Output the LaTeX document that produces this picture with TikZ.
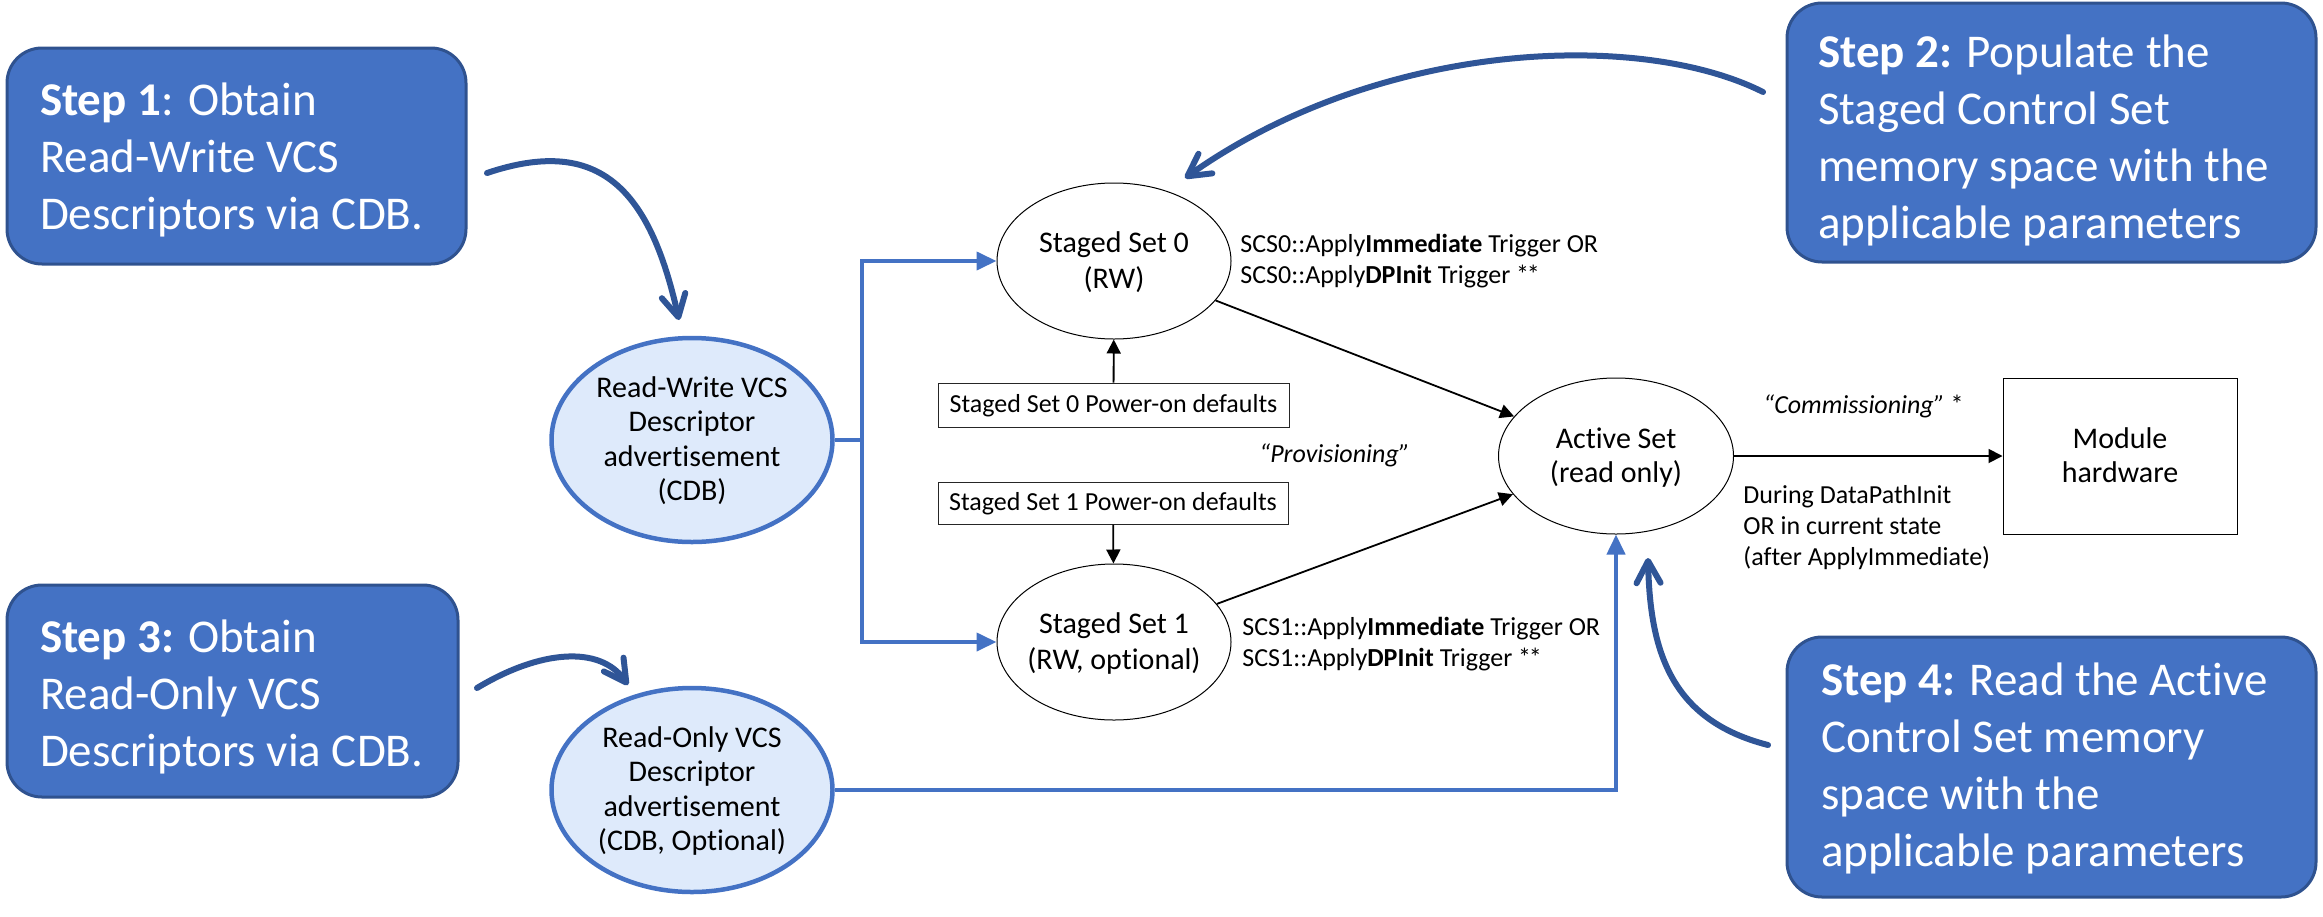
\documentclass[tikz,border=0pt]{standalone}
\usepackage{fontspec}
\setmainfont{Carlito}[Ligatures=NoCommon]
\usetikzlibrary{arrows.meta,shapes.geometric}

\definecolor{stepfill}{HTML}{4472C4}
\definecolor{stepline}{HTML}{2F528F}
\definecolor{curvecol}{HTML}{2F5597}
\definecolor{linkblue}{HTML}{4472C4}
\definecolor{descfill}{HTML}{DEEAFB}

% left-aligned block of lines in a box of fixed width, baseline on the first line
\newcommand\lefttab[2]{\makebox[#1][l]{\begin{tabular}[t]{@{}l@{}}#2\end{tabular}}}
% centred block of lines of zero width, baseline on the first line
\newcommand\midtab[1]{\makebox[0pt]{\begin{tabular}[t]{@{}c@{}}#1\end{tabular}}}
\newcommand\linestab[1]{\begin{tabular}[t]{@{}l@{}}#1\end{tabular}}
\newcommand\twostars{*\kern-1.2pt*}

\begin{document}
\begin{tikzpicture}[x=0.5pt,y=-0.5pt,
  stepbox/.style={rectangle, rounded corners=17.5pt, fill=stepfill, draw=stepline,
    line width=1.5pt, text=white, inner sep=0pt,
    font=\fontsize{23.5}{28.5}\selectfont, text height=0pt},
  descell/.style={ellipse, fill=descfill, draw=linkblue, line width=2.25pt,
    minimum width=140.5pt, minimum height=102pt, inner sep=0pt,
    font=\fontsize{15}{17.25}\selectfont, text height=0pt, text depth=43pt},
  state/.style={ellipse, draw, line width=0.5pt, minimum width=117pt,
    minimum height=78pt, inner sep=0pt, font=\fontsize{15}{18}\selectfont,
    text height=0pt, text depth=9pt},
  defbox/.style={rectangle, draw=black!85, line width=0.5pt, inner sep=0pt,
    minimum height=22pt, font=\fontsize{13}{15.5}\selectfont,
    text height=7pt, text depth=0pt},
  note/.style={inner sep=0pt, anchor=base west, font=\fontsize{13}{15.5}\selectfont},
  hint/.style={curvecol, line width=3pt, line cap=round,
    -{Straight Barb[length=11pt,width=12pt,round]}},
  feed/.style={linkblue, line width=2pt, -{Triangle[length=10pt,width=9pt]}},
  flow/.style={black, line width=0.9pt, -{Triangle[length=7pt,width=7pt]}}
]
\useasboundingbox (0,0) rectangle (2323,916);

% step call-outs
\node[stepbox, minimum width=229.5pt, minimum height=108pt, text depth=41pt] (s1) at (236.5,156)
  {\lefttab{196.5pt}{\textbf{Step 1}: Obtain\\Read-Write VCS\\Descriptors via CDB.}};
\node[stepbox, minimum width=264.5pt, minimum height=129.5pt, text depth=65.5pt] (s2) at (2051.5,132.5)
  {\lefttab{233.5pt}{\textbf{Step 2:} Populate the\\Staged Control Set\\memory space with the\\applicable parameters}};
\node[stepbox, minimum width=225.5pt, minimum height=106pt, text depth=39pt] (s3) at (232.5,691)
  {\lefttab{192.5pt}{\textbf{Step 3:} Obtain\\Read-Only VCS\\Descriptors via CDB.}};
\node[stepbox, minimum width=264.5pt, minimum height=130pt, text depth=72pt] (s4) at (2051.5,767)
  {\lefttab{230.5pt}{\textbf{Step 4:} Read the Active\\Control Set memory\\space with the\\applicable parameters}};

% descriptor advertisements
\node[descell] (rw) at (692,440) {\midtab{Read-Write VCS\\Descriptor\\advertisement\\(CDB)}};
\node[descell] (ro) at (692,790) {\midtab{Read-Only VCS\\Descriptor\\advertisement\\(CDB, Optional)}};

% control sets
\node[state] (ss0) at (1114,261) {\midtab{Staged Set 0\\(RW)}};
\node[state] (ss1) at (1114,642) {\midtab{Staged Set 1\\(RW, optional)}};
\node[state, minimum width=117.5pt, text depth=8pt, font=\fontsize{15}{17}\selectfont] (act) at (1616,456)
  {\midtab{Active Set\\(read only)}};
\node[rectangle, draw, line width=0.5pt, minimum width=117pt, minimum height=78pt, inner sep=0pt,
  font=\fontsize{15}{17}\selectfont, text height=0pt, text depth=8pt] (mod) at (2120,456)
  {\midtab{Module\\hardware}};

% power-on defaults
\node[defbox, minimum width=175.5pt] (d0) at (1113.5,405) {Staged Set 0 Power-on defaults};
\node[defbox, minimum width=175pt, minimum height=21pt] (d1) at (1113,503) {Staged Set 1 Power-on defaults};

% annotations
\node[note] (t0) at (1240,252) {\linestab{SCS0::Apply\textbf{Immediate} Trigger OR\\SCS0::Apply\textbf{DPInit} Trigger \twostars}};
\node[note] (t1) at (1242,635) {\linestab{SCS1::Apply\textbf{Immediate} Trigger OR\\SCS1::Apply\textbf{DPInit} Trigger \twostars}};
\node[note] (prov) at (1259,462) {\textit{“Provisioning”}};
\node[note] (comm) at (1763,413) {\textit{“Commissioning”} *};
\node[note] (dur) at (1743,503) {\linestab{During DataPathInit\\OR in current state\\(after ApplyImmediate)}};

% black flow arrows
\draw[flow] (d0) -- (ss0);
\draw[flow] (d1) -- (ss1);
\draw[flow] (ss0) -- (act);
\draw[flow] (ss1) -- (act);
\draw[flow] (act) -- (mod);

% blue feeds from the descriptors
\coordinate (jn) at (862,440);
\draw[linkblue, line width=2pt] (rw.east) -- (jn);
\draw[feed] (jn) |- (ss0.west);
\draw[feed] (jn) |- (ss1.west);
\draw[feed] (ro.east) -| (act.south);

% curved hint arrows from the call-outs
\coordinate (h1a) at (487,173);  \coordinate (h1b) at (679,320);
\coordinate (h2a) at (1763,92);  \coordinate (h2b) at (1185,178);
\coordinate (h3a) at (477,688);  \coordinate (h3b) at (628,685);
\coordinate (h4a) at (1768,745); \coordinate (h4b) at (1648,558);
\draw[hint] (h1a) .. controls (600,135) and (650,190) .. (h1b);
\draw[hint] (h2a) .. controls (1640,30) and (1380,40) .. (h2b);
\draw[hint] (h3a) .. controls (540,650) and (600,645) .. (h3b);
\draw[hint] (h4a) .. controls (1670,720) and (1650,650) .. (h4b);
\end{tikzpicture}
\end{document}
